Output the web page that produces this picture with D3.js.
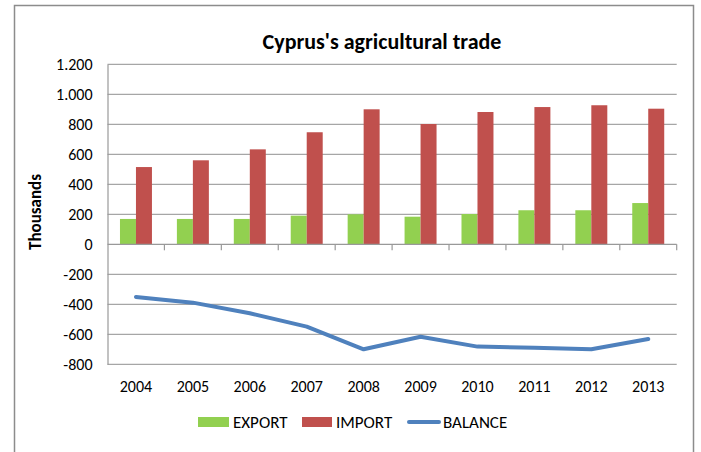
<!DOCTYPE html>
<html>
<head>
<meta charset="utf-8">
<script src="https://cdn.jsdelivr.net/npm/d3@7"></script>
<style>
  body { margin: 0; background: #fff; }
  svg text { font-family: Carlito, Lato, "Open Sans", sans-serif; fill: #000; }
  .grid line { stroke: #a6a6a6; stroke-width: 1.2; }
  .axis path, .axis line { stroke: #999; }
</style>
</head>
<body>
<div id="chart"></div>
<script>
// Data (thousands)
const years = ["2004", "2005", "2006", "2007", "2008", "2009", "2010", "2011", "2012", "2013"];
const exportVals = [169, 169, 169, 191, 200, 184, 202, 227, 227, 275];
const importVals = [515, 560, 633, 747, 900, 802, 882, 915, 927, 904];
const balanceVals = [-351, -389, -460, -549, -700, -616, -682, -690, -700, -631];
const yTicks = [-800, -600, -400, -200, 0, 200, 400, 600, 800, 1000, 1200];
const seriesNames = ["EXPORT", "IMPORT"];
const colors = { EXPORT: "#92d050", IMPORT: "#c0504d", BALANCE: "#4f81bd" };

const W = 701, H = 452;
const margin = { top: 64.3, right: 24.3, bottom: 87.7, left: 107.5 };
const width = W - margin.left - margin.right;
const height = H - margin.top - margin.bottom;

const svg = d3.select("#chart").append("svg")
  .attr("width", W)
  .attr("height", H);

// outer chart frame
svg.append("path")
  .attr("d", "M14.5,460 L14.5,5.5 L693.5,5.5 L693.5,460")
  .attr("fill", "none")
  .attr("stroke", "#8c8c8c")
  .attr("stroke-width", 1.5);

// title
svg.append("text")
  .attr("x", 382)
  .attr("y", 49)
  .attr("text-anchor", "middle")
  .style("font-size", "22px")
  .style("font-weight", "bold")
  .text("Cyprus's agricultural trade");

const g = svg.append("g")
  .attr("transform", "translate(" + margin.left + "," + margin.top + ")");

// scales
const x = d3.scaleBand().domain(years).range([0, width]).padding(0);
const x1 = d3.scaleBand().domain(seriesNames).range([0, x.bandwidth()])
  .paddingInner(0).paddingOuter(0.78);
const y = d3.scaleLinear().domain([-800, 1200]).range([height, 0]);

const locale = d3.formatLocale({ decimal: ",", thousands: ".", grouping: [3], currency: ["", ""], minus: "-" });
const fmt = locale.format(",d");

// gridlines
g.append("g").attr("class", "grid")
  .selectAll("line")
  .data(yTicks.filter(d => d !== 0))
  .join("line")
  .attr("x1", 0).attr("x2", width)
  .attr("y1", d => y(d)).attr("y2", d => y(d));

// y axis
const yAxis = d3.axisLeft(y).tickValues(yTicks).tickFormat(fmt).tickSize(0).tickPadding(15);
g.append("g").attr("class", "axis y-axis")
  .call(yAxis)
  .call(s => s.select(".domain").attr("stroke", "#999").attr("stroke-width", 1.2))
  .selectAll("text")
  .style("font-size", "16px")
  .attr("dy", "0.35em");

// bars
const rows = years.map((yr, i) => ({ year: yr, EXPORT: exportVals[i], IMPORT: importVals[i] }));
g.append("g").selectAll("g")
  .data(rows)
  .join("g")
  .attr("transform", d => "translate(" + x(d.year) + ",0)")
  .selectAll("rect")
  .data(d => seriesNames.map(k => ({ key: k, value: d[k] })))
  .join("rect")
  .attr("x", d => x1(d.key))
  .attr("width", x1.bandwidth())
  .attr("y", d => y(Math.max(0, d.value)))
  .attr("height", d => Math.abs(y(d.value) - y(0)))
  .attr("fill", d => colors[d.key]);

// zero axis with category boundary ticks
g.append("line")
  .attr("x1", 0).attr("x2", width)
  .attr("y1", y(0)).attr("y2", y(0))
  .attr("stroke", "#999").attr("stroke-width", 1.2);
g.append("g").selectAll("line")
  .data(years.map(d => x(d) + x.bandwidth()))
  .join("line")
  .attr("x1", d => d).attr("x2", d => d)
  .attr("y1", y(0)).attr("y2", y(0) + 6)
  .attr("stroke", "#999").attr("stroke-width", 1.2);

// balance line
const line = d3.line()
  .x((d, i) => x(years[i]) + x.bandwidth() / 2)
  .y(d => y(d));
g.append("path")
  .datum(balanceVals)
  .attr("d", line)
  .attr("fill", "none")
  .attr("stroke", colors.BALANCE)
  .attr("stroke-width", 4)
  .attr("stroke-linejoin", "round")
  .attr("stroke-linecap", "round");

// category labels along the bottom
g.append("g").selectAll("text")
  .data(years)
  .join("text")
  .attr("x", d => x(d) + x.bandwidth() / 2)
  .attr("y", height + 28)
  .attr("text-anchor", "middle")
  .style("font-size", "16px")
  .text(d => d);

// y axis title
svg.append("text")
  .attr("transform", "translate(41,212) rotate(-90)")
  .attr("text-anchor", "middle")
  .style("font-size", "17px")
  .style("font-weight", "bold")
  .text("Thousands");

// legend
const legend = svg.append("g").attr("class", "legend");
legend.append("rect").attr("x", 198).attr("y", 417).attr("width", 31).attr("height", 10).attr("fill", colors.EXPORT);
legend.append("text").attr("x", 233).attr("y", 428).style("font-size", "17px").text("EXPORT");
legend.append("rect").attr("x", 302).attr("y", 417).attr("width", 30).attr("height", 10).attr("fill", colors.IMPORT);
legend.append("text").attr("x", 336).attr("y", 428).style("font-size", "17px").text("IMPORT");
legend.append("line").attr("x1", 409).attr("x2", 439).attr("y1", 422).attr("y2", 422)
  .attr("stroke", colors.BALANCE).attr("stroke-width", 4).attr("stroke-linecap", "round");
legend.append("text").attr("x", 443).attr("y", 428).style("font-size", "17px").text("BALANCE");
</script>
</body>
</html>
